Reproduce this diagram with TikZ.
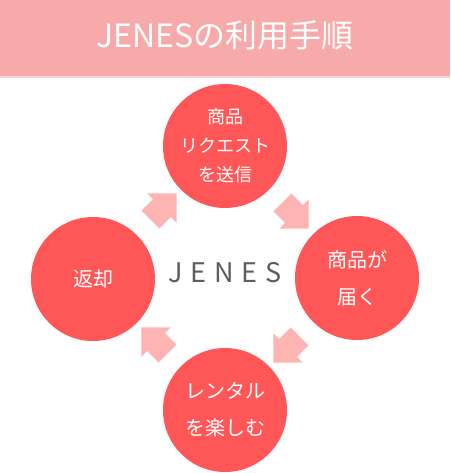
\documentclass[tikz,border=0pt]{standalone}
\usepackage{fontspec}
\setmainfont{Noto Sans CJK JP}
\usetikzlibrary{shapes.arrows}
\definecolor{band}{HTML}{F6AAAA}
\definecolor{bandline}{HTML}{FAD4D4}
\definecolor{circred}{HTML}{FF5757}
\definecolor{arrowpink}{HTML}{FFB4B4}
\definecolor{logogray}{HTML}{5E5E5E}
\begin{document}
\begin{tikzpicture}[x=1pt,y=-1pt,
  circ/.style={circle, fill=circred, minimum size=124pt, inner sep=0pt, text=white, align=center,
    font=\fontsize{20pt}{37pt}\selectfont},
  parrow/.style={single arrow, fill=arrowpink, draw=none, inner xsep=2pt, inner ysep=12.5pt,
    single arrow head extend=8pt, minimum height=37pt}]
\useasboundingbox (0,0) rectangle (450,473);
\fill[white] (0,0) rectangle (450,473);
\fill[band] (0,0) rectangle (450,76);
\fill[bandline] (0,76) rectangle (450,78);
\node[text=white, font=\fontsize{32pt}{38pt}\selectfont] (title) at (225,35) {JENESの利用手順};
\node[circ, font=\fontsize{18pt}{29pt}\selectfont] (req) at (225,146) {商品\\リクエスト\\を送信};
\node[circ] (arr) at (357,278) {商品が\\届く};
\node[circ] (rent) at (225,410) {レンタル\\を楽しむ};
\node[circ] (ret) at (93,279) {返却};
\node[text=logogray, font=\fontsize{27pt}{30pt}\selectfont] (logo) at (225,273)
  {J\hspace{8pt}E\hspace{8pt}N\hspace{8pt}E\hspace{8pt}S};
\node[parrow, rotate=45] (a1) at (159,211) {};
\node[parrow, rotate=-45] (a2) at (291,211) {};
\node[parrow, rotate=-135] (a3) at (291,345) {};
\node[parrow, rotate=135] (a4) at (159,345) {};
\end{tikzpicture}
\end{document}
